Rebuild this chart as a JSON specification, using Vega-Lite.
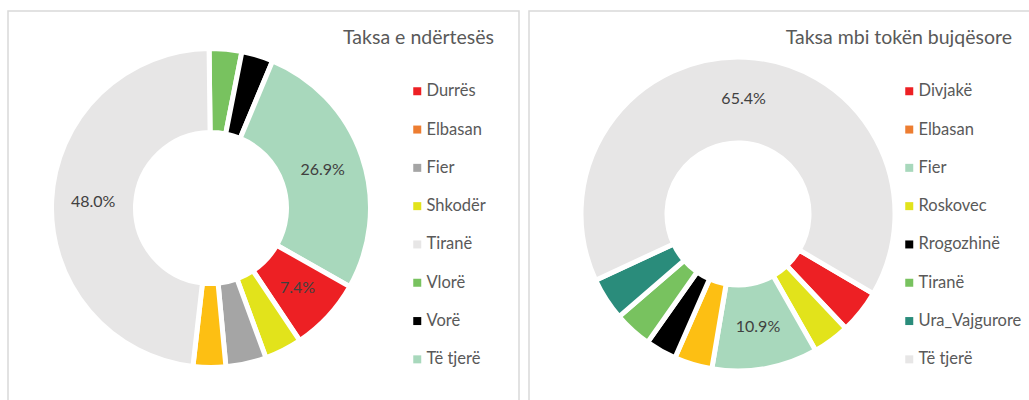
{
  "$schema": "https://vega.github.io/schema/vega-lite/v6.json",
  "padding": {"left": 7, "top": 10, "right": 0, "bottom": 0},
  "spacing": 8,
  "config": {
    "view": {"stroke": "#D9D9D9", "strokeWidth": 1.5},
    "font": "Lato"
  },
  "datasets": {
    "ndertesa": [
      {"n": "Vlorë", "v": 3.3},
      {"n": "Vorë", "v": 3.2},
      {"n": "Të tjerë", "v": 26.9},
      {"n": "Durrës", "v": 7.4},
      {"n": "Shkodër", "v": 3.8},
      {"n": "Fier", "v": 4.1},
      {"n": "Elbasan", "v": 3.3},
      {"n": "Tiranë", "v": 48.0}
    ],
    "toka": [
      {"n": "Divjakë", "v": 4.5},
      {"n": "Roskovec", "v": 3.8},
      {"n": "Fier", "v": 10.9},
      {"n": "Elbasan", "v": 3.9},
      {"n": "Rrogozhinë", "v": 3.2},
      {"n": "Tiranë", "v": 3.9},
      {"n": "Ura_Vajgurore", "v": 4.4},
      {"n": "Të tjerë", "v": 65.4}
    ]
  },
  "resolve": {"scale": {"color": "independent", "theta": "independent"}, "legend": {"color": "independent"}},
  "hconcat": [
    {
      "width": 511,
      "height": 395,
      "view": {"stroke": "#D9D9D9", "strokeWidth": 1.5},
      "title": {"text": "Taksa e ndërtesës", "anchor": "end", "frame": "group", "orient": "top", "offset": -46, "baseline": "middle", "dx": -25, "fontSize": 19.5, "font": "Lato", "fontWeight": "normal", "color": "#595959"},
      "data": {"name": "ndertesa"},
      "transform": [
        {"window": [{"op": "row_number", "as": "i"}]},
        {"calculate": "datum.v >= 5 ? format(datum.v, '.1f') + '%' : ''", "as": "lbl"}
      ],
      "encoding": {
        "theta": {"field": "v", "type": "quantitative", "stack": true, "scale": {"range": [-0.012, 6.2712]}},
        "order": {"field": "i", "type": "quantitative"}
      },
      "layer": [
        {
          "mark": {"type": "arc", "x": 203, "y": 197, "outerRadius": 159.5, "innerRadius": 75.5, "stroke": "white", "strokeWidth": 5},
          "encoding": {
            "color": {
              "condition": {"test": "datum.n === 'Elbasan'", "value": "#FDBF13"},
              "field": "n", "type": "nominal",
              "scale": {
                "domain": ["Durrës", "Elbasan", "Fier", "Shkodër", "Tiranë", "Vlorë", "Vorë", "Të tjerë"],
                "range": ["#ED2024", "#ED7D31", "#A5A5A5", "#E2E31B", "#E7E6E6", "#78C25F", "#000000", "#A8D8BC"]
              },
              "legend": {
                "orient": "none", "legendX": 401, "legendY": 72, "title": null,
                "symbolType": "square", "symbolSize": 64, "symbolStrokeWidth": 0,
                "labelFont": "Lato", "labelFontSize": 16.5, "labelColor": "#595959",
                "rowPadding": 21.3, "labelOffset": 1, "padding": 0
              }
            }
          }
        },
        {
          "mark": {"type": "text", "x": 203, "y": 197, "radius": 118, "fontSize": 16, "font": "Lato", "color": "#404040"},
          "encoding": {"text": {"field": "lbl", "type": "nominal"}}
        }
      ]
    },
    {
      "width": 502,
      "height": 395,
      "view": {"stroke": "#D9D9D9", "strokeWidth": 1.5},
      "title": {"text": "Taksa mbi tokën bujqësore", "anchor": "end", "frame": "group", "orient": "top", "offset": -46, "baseline": "middle", "dx": -19, "fontSize": 19.5, "font": "Lato", "fontWeight": "normal", "color": "#595959"},
      "data": {"name": "toka"},
      "transform": [
        {"window": [{"op": "row_number", "as": "i"}]},
        {"calculate": "datum.v >= 5 ? format(datum.v, '.1f') + '%' : ''", "as": "lbl"}
      ],
      "encoding": {
        "theta": {"field": "v", "type": "quantitative", "stack": true, "scale": {"range": [2.103, 8.3862]}},
        "order": {"field": "i", "type": "quantitative"}
      },
      "layer": [
        {
          "mark": {"type": "arc", "x": 209, "y": 203, "outerRadius": 157, "innerRadius": 71, "stroke": "white", "strokeWidth": 5},
          "encoding": {
            "color": {
              "condition": {"test": "datum.n === 'Elbasan'", "value": "#FDBF13"},
              "field": "n", "type": "nominal",
              "scale": {
                "domain": ["Divjakë", "Elbasan", "Fier", "Roskovec", "Rrogozhinë", "Tiranë", "Ura_Vajgurore", "Të tjerë"],
                "range": ["#ED2024", "#ED7D31", "#A8D8BC", "#E2E31B", "#000000", "#78C25F", "#2A8C7B", "#E7E6E6"]
              },
              "legend": {
                "orient": "none", "legendX": 372, "legendY": 72, "title": null,
                "symbolType": "square", "symbolSize": 64, "symbolStrokeWidth": 0,
                "labelFont": "Lato", "labelFontSize": 16.5, "labelColor": "#595959",
                "rowPadding": 21.3, "labelOffset": 1, "padding": 0
              }
            }
          }
        },
        {
          "mark": {"type": "text", "x": 209, "y": 203, "radius": 115, "fontSize": 16, "font": "Lato", "color": "#404040"},
          "encoding": {"text": {"field": "lbl", "type": "nominal"}}
        }
      ]
    }
  ]
}
